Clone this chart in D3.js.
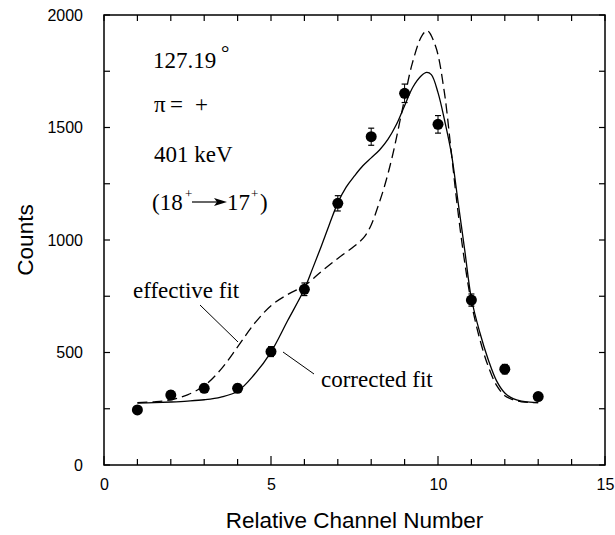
<!DOCTYPE html>
<html>
<head>
<meta charset="utf-8">
<script src="https://cdn.jsdelivr.net/npm/d3@7/dist/d3.min.js"></script>
<style>
  html, body { margin: 0; padding: 0; background: #fff; }
  svg { display: block; }
</style>
</head>
<body>
<svg id="chart" width="615" height="535"></svg>
<script>
// ---- data ----
const channels = [1, 2, 3, 4, 5, 6, 7, 8, 9, 10, 11, 12, 13];
const counts   = [245, 311, 341, 341, 504, 781, 1163, 1459, 1652, 1514, 733, 426, 304];
const errors   = [16, 18, 18, 18, 22, 28, 34, 38, 41, 39, 27, 21, 17];

const correctedX = [1.0, 1.5, 2.0, 2.5, 3.0, 3.5, 4.0, 4.5, 5.0, 5.5, 6.0, 6.25, 6.5, 6.75, 7.0, 7.25, 7.5, 7.75, 8.0, 8.25, 8.5, 8.75, 9.0, 9.25, 9.5, 9.66, 9.8, 10.0, 10.2, 10.4, 10.6, 10.8, 11.0, 11.25, 11.5, 11.75, 12.0, 12.25, 12.5, 12.75, 13.0];
const correctedY = [275, 277, 280, 284, 290, 302, 328, 402, 502, 642, 782, 875, 970, 1070, 1165, 1235, 1285, 1330, 1365, 1400, 1447, 1512, 1597, 1680, 1730, 1745, 1735, 1655, 1530, 1385, 1170, 955, 740, 590, 470, 375, 320, 295, 284, 279, 277];

const effectiveX = [1.0, 1.5, 2.0, 2.5, 3.0, 3.5, 4.0, 4.5, 5.0, 5.5, 6.0, 6.5, 7.0, 7.5, 7.8, 8.0, 8.2, 8.4, 8.63, 8.93, 9.23, 9.53, 9.68, 9.93, 10.18, 10.38, 10.58, 10.8, 11.0, 11.25, 11.5, 11.75, 12.0, 12.25, 12.5, 12.75, 13.0];
const effectiveY = [277, 281, 290, 312, 352, 425, 525, 628, 708, 758, 797, 859, 918, 973, 1015, 1067, 1148, 1240, 1370, 1578, 1785, 1911, 1930, 1860, 1667, 1415, 1148, 900, 720, 560, 440, 355, 308, 290, 281, 278, 277];

const xTicks = [0, 5, 10, 15];
const xMinorTicks = [0,1,2,3,4,5,6,7,8,9,10,11,12,13,14,15];
const yTicks = [0, 500, 1000, 1500, 2000];
const yMinorTicks = [0, 250, 500, 750, 1000, 1250, 1500, 1750, 2000];

// ---- layout ----
const svg = d3.select("#chart");
const L = 104, R = 605, T = 15, B = 465;
const x = d3.scaleLinear().domain([0, 15]).range([L, R]);
const y = d3.scaleLinear().domain([0, 2000]).range([B, T]);

const sans = "'Liberation Sans', Arial, Helvetica, sans-serif";
const serif = "'Liberation Serif', 'Times New Roman', Times, serif";

// frame
svg.append("rect").attr("x", L).attr("y", T).attr("width", R - L).attr("height", B - T)
  .attr("fill", "none").attr("stroke", "#000").attr("stroke-width", 1.5);

// ticks (inward on all sides)
const tk = svg.append("g").attr("stroke", "#000").attr("stroke-width", 1.2);
xMinorTicks.forEach(v => {
  const big = xTicks.includes(v);
  tk.append("line").attr("x1", x(v)).attr("x2", x(v)).attr("y1", B).attr("y2", B - (big ? 9 : 6));
  tk.append("line").attr("x1", x(v)).attr("x2", x(v)).attr("y1", T).attr("y2", T + 6);
});
yMinorTicks.forEach(v => {
  tk.append("line").attr("x1", L).attr("x2", L + 6).attr("y1", y(v)).attr("y2", y(v));
  tk.append("line").attr("x1", R).attr("x2", R - 6).attr("y1", y(v)).attr("y2", y(v));
});

// axes tick labels via d3 axes (lines hidden)
const xAxis = svg.append("g").attr("transform", `translate(0,${B})`)
  .call(d3.axisBottom(x).tickValues(xTicks).tickSize(0).tickPadding(14).tickFormat(d3.format("d")));
const yAxis = svg.append("g").attr("transform", `translate(${L},0)`)
  .call(d3.axisLeft(y).tickValues(yTicks).tickSize(0).tickPadding(21).tickFormat(d3.format("d")));
[xAxis, yAxis].forEach(g => {
  g.select(".domain").remove();
  g.selectAll("text").attr("font-family", sans).attr("font-size", 16).attr("fill", "#000");
});

// axis titles
svg.append("text").attr("x", (L + R) / 2).attr("y", 528).attr("text-anchor", "middle")
  .attr("font-family", sans).attr("font-size", 22.5).text("Relative Channel Number");
svg.append("text").attr("transform", `translate(33,${(T + B) / 2}) rotate(-90)`)
  .attr("text-anchor", "middle").attr("font-family", sans).attr("font-size", 22.5).text("Counts");

// curves
const line = d3.line().x(d => x(d[0])).y(d => y(d[1])).curve(d3.curveCatmullRom.alpha(0.5));
svg.append("path").datum(d3.zip(correctedX, correctedY)).attr("d", line)
  .attr("fill", "none").attr("stroke", "#000").attr("stroke-width", 1.3);
svg.append("path").datum(d3.zip(effectiveX, effectiveY)).attr("d", line)
  .attr("fill", "none").attr("stroke", "#000").attr("stroke-width", 1.3)
  .attr("stroke-dasharray", "10,5");

// error bars + points
const pts = svg.append("g");
channels.forEach((c, i) => {
  const cx = x(c), y1 = y(counts[i] + errors[i]), y0 = y(counts[i] - errors[i]);
  pts.append("line").attr("x1", cx).attr("x2", cx).attr("y1", y1).attr("y2", y0).attr("stroke", "#000").attr("stroke-width", 1);
  pts.append("line").attr("x1", cx - 3).attr("x2", cx + 3).attr("y1", y1).attr("y2", y1).attr("stroke", "#000").attr("stroke-width", 1.2);
  pts.append("line").attr("x1", cx - 3).attr("x2", cx + 3).attr("y1", y0).attr("y2", y0).attr("stroke", "#000").attr("stroke-width", 1.2);
  pts.append("circle").attr("cx", cx).attr("cy", y(counts[i])).attr("r", 5.5).attr("fill", "#000");
});

// annotations
const ann = svg.append("g").attr("font-family", serif).attr("font-size", 23).attr("fill", "#000");
ann.append("text").attr("x", 153).attr("y", 68).text("127.19");
ann.append("text").attr("x", 221).attr("y", 60).attr("font-size", 21).text("°");
const pi = ann.append("text").attr("y", 112);
pi.append("tspan").attr("x", 154).text("π");
pi.append("tspan").attr("x", 170).text("=");
pi.append("tspan").attr("x", 195).text("+");
ann.append("text").attr("x", 154).attr("y", 162).text("401 keV");
ann.append("text").attr("x", 152).attr("y", 210).text("(18");
ann.append("text").attr("x", 185).attr("y", 198).attr("font-size", 13).text("+");
ann.append("text").attr("x", 227).attr("y", 210).text("17");
ann.append("text").attr("x", 251).attr("y", 198).attr("font-size", 13).text("+");
ann.append("text").attr("x", 260).attr("y", 210).text(")");
// arrow between 18+ and 17+
svg.append("line").attr("x1", 192).attr("x2", 222).attr("y1", 202).attr("y2", 202).attr("stroke", "#000").attr("stroke-width", 1.2);
svg.append("path").attr("d", "M214,198 L227,202 L214,206 L217,202 Z").attr("fill", "#000");

// labels with leader lines
ann.append("text").attr("x", 133).attr("y", 298).text("effective fit");
svg.append("line").attr("x1", 200).attr("y1", 305).attr("x2", 238).attr("y2", 342).attr("stroke", "#000").attr("stroke-width", 1);
ann.append("text").attr("x", 321).attr("y", 387).text("corrected fit");
svg.append("line").attr("x1", 283).attr("y1", 352).attr("x2", 314).attr("y2", 374).attr("stroke", "#000").attr("stroke-width", 1);
</script>
</body>
</html>
